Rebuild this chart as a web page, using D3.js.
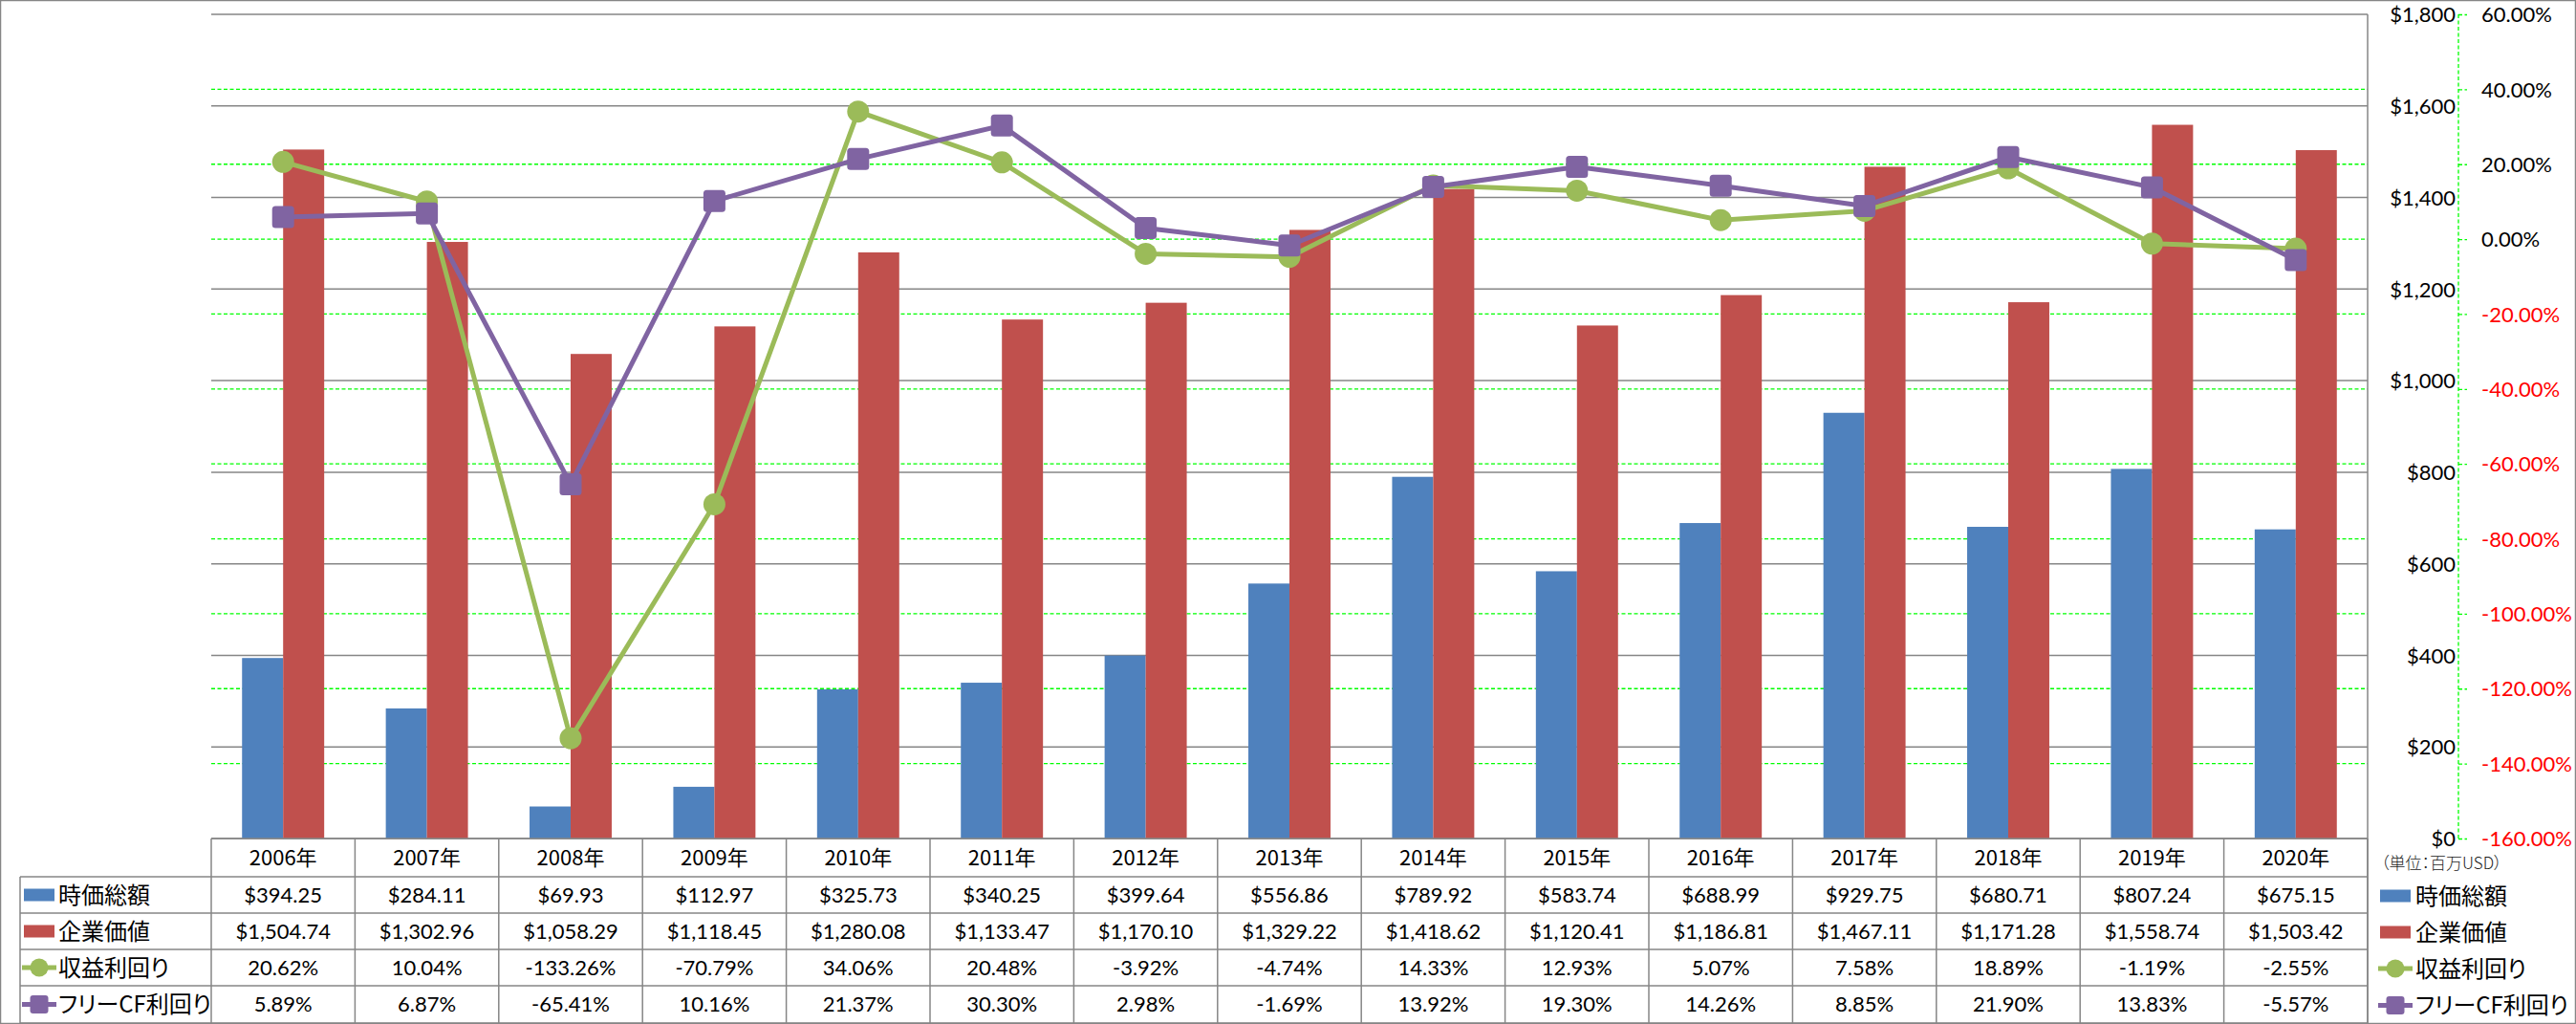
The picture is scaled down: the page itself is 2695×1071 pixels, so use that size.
<!DOCTYPE html>
<html>
<head>
<meta charset="utf-8">
<script src="https://cdn.jsdelivr.net/npm/d3@7"></script>
<style>
  html, body { margin: 0; padding: 0; background: #fff; }
  svg { display: block; }
  .num { font-family: Lato, "Liberation Sans", sans-serif; font-size: 22px; }
  .cjk { font-family: "Noto Sans CJK JP", sans-serif; font-feature-settings: "palt"; }
</style>
</head>
<body>
<svg id="chart" width="2695" height="1071"></svg>
<script>
// ---------- data ----------
const years = ['2006年','2007年','2008年','2009年','2010年','2011年','2012年','2013年','2014年','2015年','2016年','2017年','2018年','2019年','2020年'];
const marketCap = [394.25, 284.11, 69.93, 112.97, 325.73, 340.25, 399.64, 556.86, 789.92, 583.74, 688.99, 929.75, 680.71, 807.24, 675.15];
const enterpriseValue = [1504.74, 1302.96, 1058.29, 1118.45, 1280.08, 1133.47, 1170.10, 1329.22, 1418.62, 1120.41, 1186.81, 1467.11, 1171.28, 1558.74, 1503.42];
const earningsYield = [20.62, 10.04, -133.26, -70.79, 34.06, 20.48, -3.92, -4.74, 14.33, 12.93, 5.07, 7.58, 18.89, -1.19, -2.55];
const fcfYield = [5.89, 6.87, -65.41, 10.16, 21.37, 30.30, 2.98, -1.69, 13.92, 19.30, 14.26, 8.85, 21.90, 13.83, -5.57];
const seriesNames = ['時価総額', '企業価値', '収益利回り', 'フリーCF利回り'];
const usdTicks = [0, 200, 400, 600, 800, 1000, 1200, 1400, 1600, 1800];
const pctTicks = [-160, -140, -120, -100, -80, -60, -40, -20, 0, 20, 40, 60];
const unitLabel = '（単位：百万USD）';

// ---------- layout ----------
const W = 2695, H = 1071;
const plotL = 221, plotR = 2477, plotT = 15, plotB = 877;
const tableL = 21;
const rowTops = [877, 917, 955, 993, 1031, 1070];
const colors = { blue: '#4F81BD', red: '#C0504D', green: '#9BBB59', purple: '#8064A2' };
const gridGray = '#868686';
const dashGreen = '#00FF00';

const svg = d3.select('#chart');

const x = d3.scaleBand().domain(years).range([plotL, plotR]).padding(0);
const bw = x.bandwidth() / 3.5;
const yL = d3.scaleLinear().domain([0, 1800]).range([plotB, plotT]);
const yR = d3.scaleLinear().domain([-160, 60]).range([plotB, plotT]);

// outer border
svg.append('rect').attr('x', 0.5).attr('y', 0.5).attr('width', W - 1).attr('height', H - 1)
  .attr('fill', 'none').attr('stroke', gridGray).attr('stroke-width', 1.5);

// green dashed gridlines (secondary)
svg.append('g').selectAll('line').data(pctTicks.filter(d => d !== -160 && d !== 60)).join('line')
  .attr('x1', plotL).attr('x2', plotR)
  .attr('y1', d => yR(d)).attr('y2', d => yR(d))
  .attr('stroke', dashGreen).attr('stroke-width', 1.3).attr('stroke-dasharray', '4,2.5');

// gray gridlines (primary)
svg.append('g').selectAll('line').data(usdTicks).join('line')
  .attr('x1', plotL).attr('x2', plotR)
  .attr('y1', d => yL(d)).attr('y2', d => yL(d))
  .attr('stroke', gridGray).attr('stroke-width', 1.5);

// bars
const barG = svg.append('g');
barG.selectAll('rect.mc').data(marketCap).join('rect')
  .attr('x', (d, i) => x(years[i]) + x.bandwidth() / 2 - bw)
  .attr('y', d => yL(d)).attr('width', bw).attr('height', d => yL(0) - yL(d))
  .attr('fill', colors.blue);
barG.selectAll('rect.ev').data(enterpriseValue).join('rect')
  .attr('x', (d, i) => x(years[i]) + x.bandwidth() / 2)
  .attr('y', d => yL(d)).attr('width', bw).attr('height', d => yL(0) - yL(d))
  .attr('fill', colors.red);

// primary axis line (right) and labels
svg.append('line').attr('x1', plotR).attr('x2', plotR).attr('y1', plotT).attr('y2', rowTops[5])
  .attr('stroke', gridGray).attr('stroke-width', 1.5);
const yAxisL = d3.axisRight(yL).tickValues(usdTicks).tickSize(0).tickPadding(0)
  .tickFormat(d => '$' + d3.format(',')(d));
const gL = svg.append('g').attr('transform', 'translate(2569,0)').call(yAxisL);
gL.select('.domain').remove();
gL.selectAll('text').attr('class', 'num').attr('text-anchor', 'end').attr('x', 0)
  .attr('fill', '#000').attr('dy', '0.35em');

// secondary axis
const yAxisR = d3.axisRight(yR).tickValues(pctTicks).tickSize(9).tickPadding(15)
  .tickFormat(d => d.toFixed(2) + '%');
const gR = svg.append('g').attr('transform', 'translate(2572,0)').call(yAxisR);
gR.select('.domain').attr('stroke', dashGreen).attr('stroke-width', 1.3).attr('stroke-dasharray', '4,2.5')
  .attr('d', `M0,${plotT}V${plotB}`);
gR.selectAll('.tick line').attr('stroke', dashGreen).attr('stroke-width', 1.3).attr('stroke-dasharray', '4,2.5');
gR.selectAll('text').attr('class', 'num').attr('fill', d => d < 0 ? '#FF0000' : '#000').attr('dy', '0.35em');

// lines
const lineGen = d3.line().x((d, i) => x(years[i]) + x.bandwidth() / 2).y(d => yR(d));
svg.append('path').datum(earningsYield).attr('d', lineGen)
  .attr('fill', 'none').attr('stroke', colors.green).attr('stroke-width', 5).attr('stroke-linejoin', 'round');
svg.append('g').selectAll('circle').data(earningsYield).join('circle')
  .attr('cx', (d, i) => x(years[i]) + x.bandwidth() / 2).attr('cy', d => yR(d)).attr('r', 11.5)
  .attr('fill', colors.green);
svg.append('path').datum(fcfYield).attr('d', lineGen)
  .attr('fill', 'none').attr('stroke', colors.purple).attr('stroke-width', 5).attr('stroke-linejoin', 'round');
svg.append('g').selectAll('rect').data(fcfYield).join('rect')
  .attr('x', (d, i) => x(years[i]) + x.bandwidth() / 2 - 11.5).attr('y', d => yR(d) - 11.5)
  .attr('width', 23).attr('height', 23).attr('rx', 3.5)
  .attr('fill', colors.purple);

// ---------- data table ----------
const tbl = svg.append('g');
tbl.append('line').attr('x1', plotL).attr('x2', plotR).attr('y1', rowTops[0]).attr('y2', rowTops[0])
  .attr('stroke', gridGray).attr('stroke-width', 1.5);
tbl.selectAll('line.h').data(rowTops.slice(1)).join('line')
  .attr('x1', tableL).attr('x2', plotR).attr('y1', d => d).attr('y2', d => d)
  .attr('stroke', gridGray).attr('stroke-width', 1.5);
const vx = years.map(d => x(d)).concat([plotR]);
tbl.selectAll('line.v').data(vx).join('line')
  .attr('x1', d => d).attr('x2', d => d).attr('y1', rowTops[0]).attr('y2', rowTops[5])
  .attr('stroke', gridGray).attr('stroke-width', 1.5);
tbl.append('line').attr('x1', tableL).attr('x2', tableL).attr('y1', rowTops[1]).attr('y2', rowTops[5])
  .attr('stroke', gridGray).attr('stroke-width', 1.5);

// header
tbl.selectAll('text.yr').data(years).join('text')
  .attr('class', 'cjk').attr('font-size', 22)
  .attr('x', d => x(d) + x.bandwidth() / 2).attr('y', (rowTops[0] + rowTops[1]) / 2)
  .attr('dy', '0.36em').attr('text-anchor', 'middle').attr('fill', '#000').text(d => d);

const fmtUsd = d => '$' + d3.format(',.2f')(d);
const fmtPct = d => d.toFixed(2) + '%';
const rows = [
  { vals: marketCap, fmt: fmtUsd },
  { vals: enterpriseValue, fmt: fmtUsd },
  { vals: earningsYield, fmt: fmtPct },
  { vals: fcfYield, fmt: fmtPct }
];
rows.forEach((r, ri) => {
  const cy = (rowTops[ri + 1] + rowTops[ri + 2]) / 2;
  tbl.append('g').selectAll('text').data(r.vals).join('text')
    .attr('class', 'num')
    .attr('x', (d, i) => x(years[i]) + x.bandwidth() / 2).attr('y', cy)
    .attr('dy', '0.36em').attr('text-anchor', 'middle').attr('fill', '#000').text(r.fmt);
});

function legendKey(g, idx, kx, cy) {
  if (idx === 0 || idx === 1) {
    g.append('rect').attr('x', kx).attr('y', cy - 6.5).attr('width', 32).attr('height', 13)
      .attr('fill', idx === 0 ? colors.blue : colors.red);
  } else if (idx === 2) {
    g.append('line').attr('x1', kx - 2).attr('x2', kx + 34).attr('y1', cy).attr('y2', cy)
      .attr('stroke', colors.green).attr('stroke-width', 5);
    g.append('circle').attr('cx', kx + 16).attr('cy', cy).attr('r', 9.5).attr('fill', colors.green);
  } else {
    g.append('line').attr('x1', kx - 2).attr('x2', kx + 34).attr('y1', cy).attr('y2', cy)
      .attr('stroke', colors.purple).attr('stroke-width', 5);
    g.append('rect').attr('x', kx + 6.5).attr('y', cy - 9.5).attr('width', 19).attr('height', 19)
      .attr('rx', 3).attr('fill', colors.purple);
  }
}
seriesNames.forEach((name, i) => {
  const cy = (rowTops[i + 1] + rowTops[i + 2]) / 2;
  legendKey(tbl, i, 25, cy);
  tbl.append('text').attr('class', 'cjk').attr('font-size', 24)
    .attr('x', 61).attr('y', cy).attr('dy', '0.36em').attr('fill', '#000').text(name);
});

const leg = svg.append('g');
leg.append('text').attr('class', 'cjk').attr('font-size', 17).attr('font-weight', 300)
  .attr('x', 2491).attr('y', 903).attr('dy', '0.36em').attr('fill', '#222').text(unitLabel);
seriesNames.forEach((name, i) => {
  const cy = (rowTops[i + 1] + rowTops[i + 2]) / 2 + 1;
  legendKey(leg, i, 2490, cy);
  leg.append('text').attr('class', 'cjk').attr('font-size', 24)
    .attr('x', 2527).attr('y', cy).attr('dy', '0.36em').attr('fill', '#000').text(name);
});
</script>
</body>
</html>
